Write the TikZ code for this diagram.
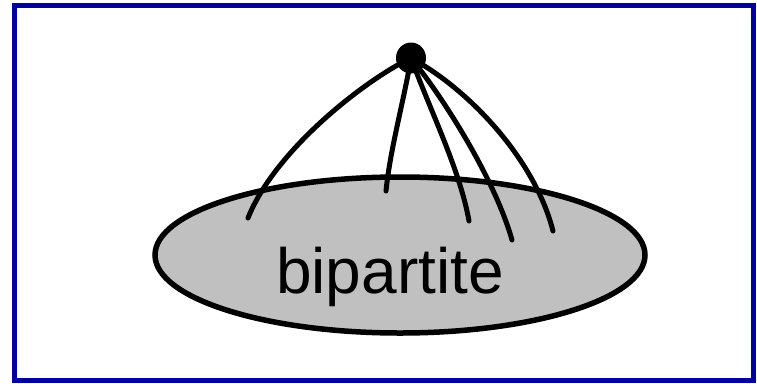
\documentclass[tikz,border=0pt]{standalone}
\usepackage{fontspec}
\setmainfont{Liberation Sans}
\usetikzlibrary{shapes.geometric}
\definecolor{frameblue}{RGB}{0,0,160}
\definecolor{setgray}{RGB}{192,192,192}
\tikzset{
  frame/.style={draw=frameblue, line width=5pt},
  setshape/.style={ellipse, draw=black, fill=setgray, line width=5.5pt, minimum width=490pt, minimum height=156pt, inner sep=0pt},
  edge/.style={draw=black, line width=5pt, line cap=round},
  vertex/.style={ellipse, fill=black, minimum width=30pt, minimum height=31pt, inner sep=0pt},
  label/.style={font=\fontsize{64}{70}\selectfont, anchor=base, inner sep=0pt}
}
\begin{document}
\begin{tikzpicture}[x=1pt,y=-1pt]
\useasboundingbox (0,0) rectangle (757,383);
\node[frame, minimum width=739pt, minimum height=375pt, inner sep=0pt] (border) at (384,192.5) {};
\node[setshape] (set) at (400,255) {};
\coordinate (top) at (411,58);
\coordinate (e1) at (248,218);
\coordinate (e2) at (386,191);
\coordinate (e3) at (469,221);
\coordinate (e4) at (512,240);
\coordinate (e5) at (553,231);
\draw[edge] (top) .. controls (365,80) and (275,150) .. (e1);
\draw[edge] (top) .. controls (404,100) and (390,150) .. (e2);
\draw[edge] (top) .. controls (430,110) and (460,170) .. (e3);
\draw[edge] (top) .. controls (445,100) and (495,180) .. (e4);
\draw[edge] (top) .. controls (470,90) and (535,160) .. (e5);
\node[vertex] (dot) at (top) {};
\node[label] (name) at (390,293) {bipartite};
\end{tikzpicture}
\end{document}
